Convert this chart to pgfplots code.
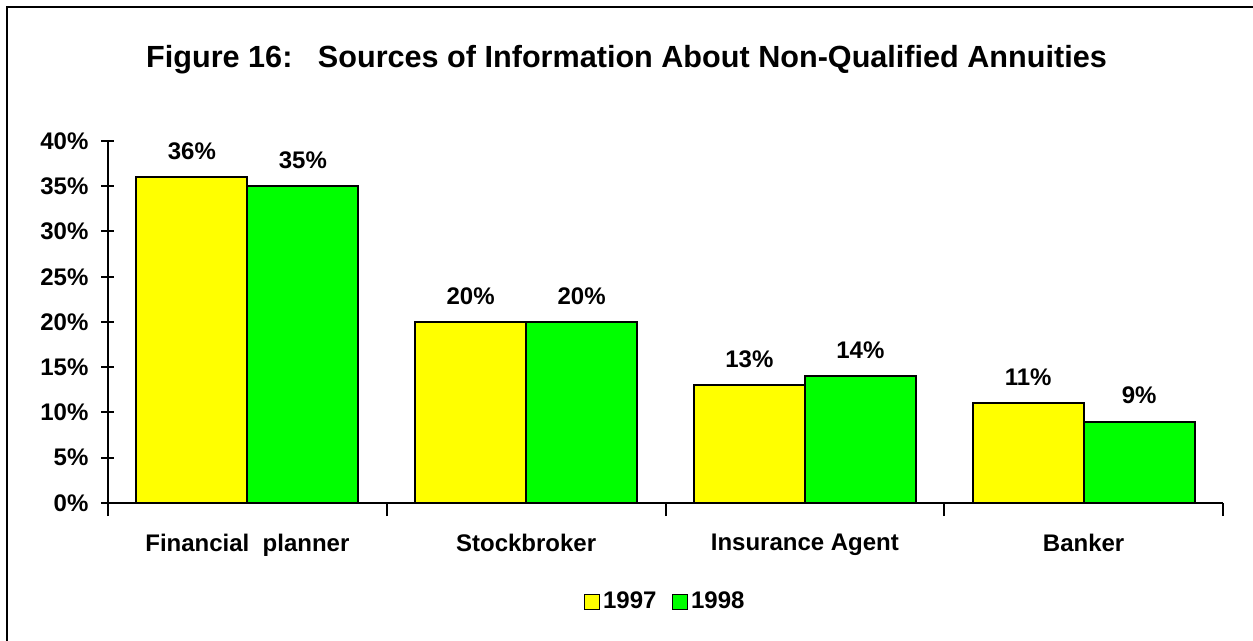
\documentclass[border=0pt]{standalone}
\usepackage{fontspec}
\setmainfont{Liberation Sans}
\usepackage{pgfplots}
\pgfplotsset{compat=1.18}
\definecolor{yel}{RGB}{255,255,0}
\definecolor{grn}{RGB}{0,255,0}
\pgfplotsset{sq legend/.style={legend image code/.code={\draw[##1,line width=0.8pt,draw=black] (0pt,-3.75pt) rectangle (7.5pt,3.75pt);}}}
\begin{document}
\begin{tikzpicture}
\path[use as bounding box] (0,0) rectangle (626.5pt,-320.5pt);
\draw[line width=1.25pt] (3.5pt,-330pt) -- (3.5pt,-3.5pt) -- (640pt,-3.5pt);
\node[font=\bfseries\fontsize{15.3}{18}\selectfont] at (313.25pt,-30pt) {Figure 16:\ \ \ Sources of Information About Non-Qualified Annuities};
\begin{axis}[
 at={(54pt,-251.5pt)}, anchor=south west,
 scale only axis, width=557.5pt, height=181pt,
 xmin=-0.5, xmax=3.5, ymin=0, ymax=40,
 axis lines*=left,
 axis line style={line width=1pt},
 tick align=center, major tick length=6.5pt,
 tick style={line width=1pt, black},
 xtick={-0.5,0.5,1.5,2.5,3.5},
 x tick label as interval,
 xticklabels={Financial\ \ planner, Stockbroker, Insurance Agent, Banker},
 ytick={0,5,10,15,20,25,30,35,40},
 yticklabels={0\%,5\%,10\%,15\%,20\%,25\%,30\%,35\%,40\%},
 ticklabel style={font=\bfseries\fontsize{12}{14}\selectfont},
 xticklabel style={yshift=-5.5pt},
 yticklabel style={xshift=-3pt},
 ybar=0pt, bar width=55.5pt,
 /pgf/number format/assume math mode=true,
 nodes near coords={\pgfmathprintnumber{\pgfplotspointmeta}\%},
 nodes near coords style={font=\bfseries\fontsize{12}{14}\selectfont, anchor=center, yshift=13pt, black},
 clip=false,
 legend style={at={(0.5,-0.2735)}, anchor=center, draw=none, fill=none,
   legend columns=2, font=\bfseries\fontsize{12}{14}\selectfont,
   /tikz/every even column/.append style={column sep=6pt},
   inner sep=0pt, nodes={inner sep=1.5pt}},
]
\addplot[fill=yel, draw=black, line width=1pt, sq legend] coordinates {(0,36) (1,20) (2,13) (3,11)};
\addplot[fill=grn, draw=black, line width=1pt, sq legend] coordinates {(0,35) (1,20) (2,14) (3,9)};
\legend{1997,1998}
\end{axis}
\end{tikzpicture}
\end{document}
